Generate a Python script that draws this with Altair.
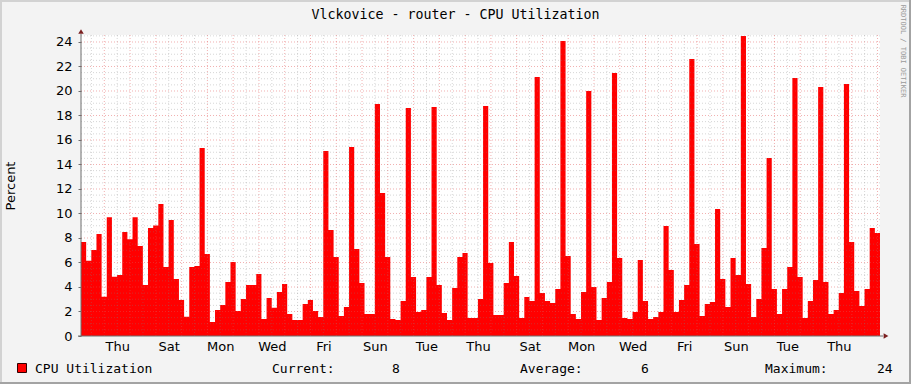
import json
import altair as alt
import pandas as pd

# ---------------- data ----------------
cpu_values = [
    7.67, 6.15, 7.02, 8.33, 3.21, 9.69, 4.84, 4.98, 8.49, 7.89,
    9.69, 7.35, 4.16, 8.82, 9.03, 10.78, 5.63, 9.47, 4.65, 2.94,
    1.58, 5.63, 5.71, 15.35, 6.69, 1.14,
    2.12, 2.53, 4.41, 6.04, 2.04, 3.02, 4.16, 4.16, 5.06, 1.39,
    3.10, 2.31, 3.59, 4.24, 1.80, 1.31, 1.31, 2.61, 2.94, 2.04,
    1.55, 15.10, 8.65, 6.45, 1.63, 2.37,
    15.43, 7.10, 4.33, 1.80, 1.80, 18.94, 11.67, 6.45, 1.39, 1.31,
    2.86, 18.61, 4.82, 1.96, 2.12, 4.82, 18.69, 4.16, 1.88, 1.31,
    3.92, 6.45, 6.78, 1.47, 1.47, 3.02,
    18.78, 5.96, 1.71, 1.71, 4.33, 7.67, 4.90, 1.47, 3.18, 2.86,
    21.14, 3.51, 2.86, 2.69, 3.84, 24.08, 6.53, 1.80, 1.39, 3.59,
    20.00, 4.00, 1.31, 3.10, 4.41, 21.47,
    6.37, 1.47, 1.39, 1.96, 6.20, 2.86, 1.39, 1.55, 1.96, 8.98,
    5.39, 1.96, 2.94, 4.16, 22.61, 7.51, 1.63, 2.61, 2.78, 10.37,
    4.65, 2.37, 6.37, 4.98, 24.49, 4.24,
    1.55, 3.02, 7.18, 14.53, 3.84, 1.80, 3.84, 5.63, 21.06, 4.82,
    1.47, 2.86, 4.57, 20.33, 4.41, 1.80, 2.12, 3.51, 20.57, 7.67,
    3.67, 2.45, 3.84, 8.82, 8.41,
]
BAR_DAYS = 0.2           # each sample covers 1/5 day
SPAN_DAYS = 31.0
FIRST_MIDNIGHT = 0.904   # offset (days) of first midnight from graph start

day_labels = ["Thu", "Sat", "Mon", "Wed", "Fri", "Sun", "Tue",
              "Thu", "Sat", "Mon", "Wed", "Fri", "Sun", "Tue", "Thu"]
y_ticks = [0, 2, 4, 6, 8, 10, 12, 14, 16, 18, 20, 22, 24]

title_text = "Vlckovice - router - CPU Utilization"
y_title = "Percent"
series_name = "CPU Utilization"
stat_names = ["Current:", "Average:", "Maximum:"]
stat_values = ["8", "6", "24"]
watermark = "RRDTOOL / TOBI OETIKER"

# ---------------- frames ----------------
xs = [i * BAR_DAYS for i in range(len(cpu_values))] + [SPAN_DAYS]
ys = cpu_values + [cpu_values[-1]]
df = pd.DataFrame({"x": xs, "y": ys})

label_pos = [FIRST_MIDNIGHT + 0.5 + 2 * k for k in range(len(day_labels))]
major_x = pd.DataFrame({"x": [FIRST_MIDNIGHT + k for k in range(31)]})
minor_x = pd.DataFrame({"x": [FIRST_MIDNIGHT - 0.5 + k for k in range(31)]})
major_y = pd.DataFrame({"y": [v for v in y_ticks if v > 0]})
minor_y = pd.DataFrame({"y": [k * 0.5 for k in range(1, 50) if k % 4 != 0]})
one = pd.DataFrame({"k": [0]})

W, H = 799, 301
YMAX = 24.571

xscale = alt.Scale(domain=[0, SPAN_DAYS], nice=False, zero=False)
yscale = alt.Scale(domain=[0, YMAX], nice=False, zero=False)

label_expr = "{}[round((datum.value - {}) / 2)]".format(
    json.dumps(day_labels).replace('"', "'"), FIRST_MIDNIGHT + 0.5)

xaxis = alt.Axis(values=label_pos, labelExpr=label_expr, title=None,
                 grid=False, domain=False, ticks=False,
                 labelFont="DejaVu Sans", labelFontSize=13,
                 labelColor="#000000", labelPadding=4,
                 labelOverlap=False, labelFlush=False)
yaxis = alt.Axis(values=y_ticks, title=None, grid=False, domain=False,
                 ticks=True, tickSize=3, tickColor="#6E6E6E",
                 labelFont="DejaVu Sans", labelFontSize=13,
                 labelColor="#000000", labelPadding=6,
                 labelOverlap=False, labelFlush=False, tickCount=13)

area = alt.Chart(df).mark_area(
    interpolate="step-after", color="#FF0000", opacity=1
).encode(
    x=alt.X("x:Q", scale=xscale, axis=xaxis),
    y=alt.Y("y:Q", scale=yscale, axis=yaxis),
)

grid_minor_x = alt.Chart(minor_x).mark_rule(
    color="#808080", opacity=0.32, strokeDash=[1, 2], strokeWidth=1
).encode(x=alt.X("x:Q", scale=xscale, axis=xaxis))
grid_minor_y = alt.Chart(minor_y).mark_rule(
    color="#808080", opacity=0.32, strokeDash=[1, 2], strokeWidth=1
).encode(y=alt.Y("y:Q", scale=yscale, axis=yaxis))
grid_major_x = alt.Chart(major_x).mark_rule(
    color="#E05050", opacity=0.45, strokeDash=[1, 2], strokeWidth=1
).encode(x=alt.X("x:Q", scale=xscale, axis=xaxis))
grid_major_y = alt.Chart(major_y).mark_rule(
    color="#E05050", opacity=0.45, strokeDash=[1, 2], strokeWidth=1
).encode(y=alt.Y("y:Q", scale=yscale, axis=yaxis))

AXIS_COL = "#6E6E6E"
ARROW_COL = "#7A1F1F"
y_axis_line = alt.Chart(one).mark_rule(color=AXIS_COL, strokeWidth=1).encode(
    x=alt.value(0), y=alt.value(H), y2=alt.value(-1))
x_axis_line = alt.Chart(one).mark_rule(color=AXIS_COL, strokeWidth=1).encode(
    x=alt.value(-3), x2=alt.value(W + 3), y=alt.value(H))
arrow_up = alt.Chart(one).mark_point(
    shape="triangle-up", filled=True, color=ARROW_COL, size=30, opacity=1
).encode(x=alt.value(0), y=alt.value(-3.5))
arrow_right = alt.Chart(one).mark_point(
    shape="triangle-right", filled=True, color=ARROW_COL, size=30, opacity=1
).encode(x=alt.value(W + 6), y=alt.value(H))

# frame around the canvas
BL = "#D2D2D2"
BD = "#A3A3A3"
frame_left = alt.Chart(one).mark_rule(color=BL, strokeWidth=2).encode(
    x=alt.value(-80), y=alt.value(-35), y2=alt.value(349))
frame_top = alt.Chart(one).mark_rule(color=BL, strokeWidth=2).encode(
    x=alt.value(-81), x2=alt.value(830), y=alt.value(-34))
frame_right = alt.Chart(one).mark_rule(color=BD, strokeWidth=2).encode(
    x=alt.value(829), y=alt.value(-35), y2=alt.value(349))
frame_bottom = alt.Chart(one).mark_rule(color=BD, strokeWidth=2).encode(
    x=alt.value(-81), x2=alt.value(830), y=alt.value(348))

MONO = "DejaVu Sans Mono"
title = alt.Chart(one).mark_text(
    text=title_text, font=MONO, fontSize=13.3, color="#000000",
    align="center", baseline="middle"
).encode(x=alt.value(374.5), y=alt.value(-20))
ytitle = alt.Chart(one).mark_text(
    text=y_title, font="DejaVu Sans", fontSize=13, color="#000000",
    align="center", baseline="middle", angle=270
).encode(x=alt.value(-70), y=alt.value(151))
wm = alt.Chart(one).mark_text(
    text=watermark, font=MONO, fontSize=7, color="#9A9A9A",
    align="center", baseline="middle", angle=90
).encode(x=alt.value(822), y=alt.value(16))

legend_sq = alt.Chart(one).mark_rect(
    color="#FF0000", stroke="#300000", strokeWidth=1
).encode(x=alt.value(-63.5), x2=alt.value(-54.5), y=alt.value(328.5), y2=alt.value(337.5))

LY = 333.5
legend_items = [
    (series_name, -46),
    (stat_names[0], 191), (stat_values[0], 311),
    (stat_names[1], 439), (stat_values[1], 560),
    (stat_names[2], 684), (stat_values[2], 796),
]
legend_texts = [
    alt.Chart(one).mark_text(
        text=t, font=MONO, fontSize=13, color="#000000",
        align="left", baseline="middle"
    ).encode(x=alt.value(px), y=alt.value(LY))
    for t, px in legend_items
]

chart = alt.layer(
    area, grid_minor_x, grid_minor_y, grid_major_x, grid_major_y,
    y_axis_line, x_axis_line, arrow_up, arrow_right,
    frame_left, frame_top, frame_right, frame_bottom,
    title, ytitle, wm, legend_sq, *legend_texts
).properties(
    width=W, height=H,
    padding={"left": 81, "top": 35, "right": 31, "bottom": 48},
    autosize=alt.AutoSizeParams(type="none"),
    background="#F3F3F3",
).configure_view(stroke=None, fill="#FFFFFF")

chart.save("out.html", embed_options={"renderer": "svg", "actions": False})
